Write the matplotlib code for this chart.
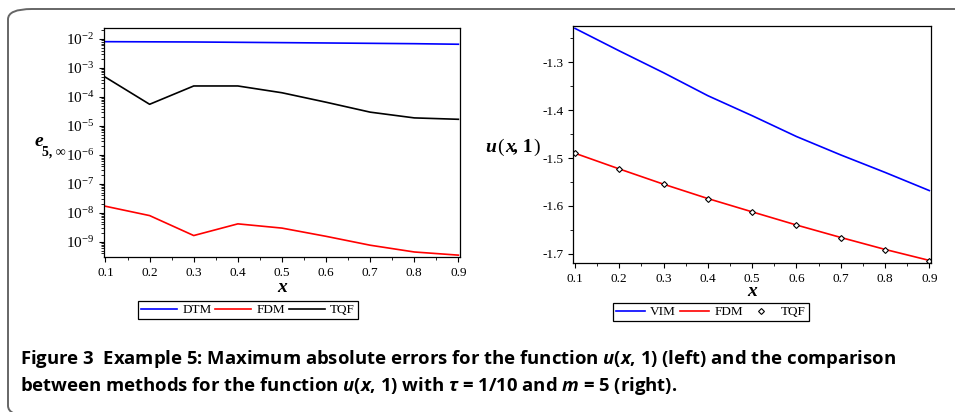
import math
import matplotlib
matplotlib.use("Agg")
import matplotlib.pyplot as plt
import matplotlib.ticker as mticker
from matplotlib.patches import FancyBboxPatch

SERIF = "Liberation Serif"
CAPFONT = "Open Sans"

plt.rcParams["font.family"] = SERIF
plt.rcParams["mathtext.fontset"] = "custom"
plt.rcParams["mathtext.rm"] = CAPFONT + ":bold"
plt.rcParams["mathtext.it"] = CAPFONT + ":bold:italic"
plt.rcParams["mathtext.bf"] = CAPFONT + ":bold"

# left panel: maximum absolute errors
x_vals = [0.1, 0.2, 0.3, 0.4, 0.5, 0.6, 0.7, 0.8, 0.9]
err_dtm = [8.1e-3, 8.0e-3, 7.9e-3, 7.7e-3, 7.5e-3, 7.3e-3, 7.1e-3, 6.9e-3, 6.6e-3]
err_fdm = [1.7e-8, 8.1e-9, 1.66e-9, 4.2e-9, 3.0e-9, 1.56e-9, 7.7e-10, 4.5e-10, 3.5e-10]
err_tqf = [4.8e-4, 5.6e-5, 2.4e-4, 2.4e-4, 1.4e-4, 6.6e-5, 3.0e-5, 1.9e-5, 1.7e-5]

# right panel: u(x, 1)
u_vim = [-1.229, -1.276, -1.3217, -1.3697, -1.4115, -1.455, -1.4935, -1.530, -1.568]
u_fdm = [-1.490, -1.5228, -1.5547, -1.5847, -1.6125, -1.640, -1.666, -1.691, -1.714]
u_tqf = [-1.4895, -1.5228, -1.5547, -1.5847, -1.6125, -1.640, -1.6667, -1.6917, -1.716]

W, H = 955, 412
fig = plt.figure(figsize=(W / 100, H / 100), dpi=100)


def fx(px):
    return px / W


def fy(py):
    return 1 - py / H


# rounded frame around the figure
frame = FancyBboxPatch(
    (fx(8), fy(416)), fx(1000) - fx(8), fy(9) - fy(416),
    boxstyle="round,pad=0,rounding_size=0.025",
    transform=fig.transFigure, facecolor="none", edgecolor="#666666",
    linewidth=1.4, clip_on=False,
)
fig.patches.append(frame)


def style_axes(ax):
    for sp in ax.spines.values():
        sp.set_linewidth(0.9)
    ax.tick_params(which="major", direction="out", length=3.5, width=0.8,
                   labelsize=9.5)
    ax.tick_params(which="minor", direction="out", length=2, width=0.6)
    ax.xaxis.set_major_locator(mticker.FixedLocator(x_vals))
    ax.xaxis.set_minor_locator(mticker.MultipleLocator(0.05))
    ax.xaxis.set_major_formatter(mticker.FormatStrFormatter("%.1f"))


def add_legend(ax, cx, cy, hl):
    leg = ax.legend(loc="center", bbox_to_anchor=(fx(cx), fy(cy)),
                    bbox_transform=fig.transFigure, ncol=3, frameon=True,
                    fancybox=False, edgecolor="black", framealpha=1,
                    prop={"family": SERIF, "size": 9.5}, handlelength=hl,
                    columnspacing=0.3, handletextpad=0.4, borderpad=0.25,
                    borderaxespad=0)
    leg.get_frame().set_linewidth(0.9)


# ---- left
ax1 = fig.add_axes([fx(104), fy(257), fx(460) - fx(104), fy(28) - fy(257)])
ax1.plot(x_vals, err_dtm, color="#0000ff", lw=1.2, label="DTM")
ax1.plot(x_vals, err_fdm, color="#ff0000", lw=1.2, label="FDM")
ax1.plot(x_vals, err_tqf, color="black", lw=1.2, label="TQF")
ax1.set_yscale("log")
ax1.set_xlim(0.0966, 0.9036)
ax1.set_ylim(10 ** -9.52, 10 ** -1.62)
ax1.yaxis.set_major_locator(mticker.LogLocator(base=10, numticks=20))
ax1.yaxis.set_major_formatter(mticker.FuncFormatter(
    lambda v, p: r"$\mathregular{10^{-%d}}$" % round(-math.log10(v))))
ax1.yaxis.set_minor_locator(mticker.LogLocator(base=10, subs=range(2, 10), numticks=20))
ax1.yaxis.set_minor_formatter(mticker.NullFormatter())
style_axes(ax1)
ax1.tick_params(axis="y", labelsize=11)

fig.text(fx(282), fy(288), "x", style="italic", weight="bold",
         fontsize=14, ha="center", va="center")
fig.text(fx(35), fy(141), "e", style="italic", weight="bold",
         fontsize=14, ha="left", va="center")
fig.text(fx(42), fy(152), "5, \u221e", weight="bold",
         fontsize=10, ha="left", va="center")

add_legend(ax1, 248, 310, 2.7)

# ---- right
ax2 = fig.add_axes([fx(573), fy(263), fx(931) - fx(573), fy(26) - fy(263)])
ax2.plot(x_vals, u_vim, color="#0000ff", lw=1.2, label="VIM")
ax2.plot(x_vals, u_fdm, color="#ff0000", lw=1.2, label="FDM")
ax2.plot(x_vals, u_tqf, linestyle="none", marker="D", markersize=3,
         markerfacecolor="white", markeredgecolor="black", markeredgewidth=0.8,
         label="TQF")
ax2.set_xlim(0.0955, 0.9038)
ax2.set_ylim(-1.7194, -1.224)
ax2.yaxis.set_major_locator(mticker.FixedLocator([-1.3, -1.4, -1.5, -1.6, -1.7]))
ax2.yaxis.set_minor_locator(mticker.MultipleLocator(0.05))
ax2.yaxis.set_major_formatter(mticker.FuncFormatter(lambda v, p: "-%.1f" % abs(v)))
style_axes(ax2)

fig.text(fx(752), fy(292), "x", style="italic", weight="bold",
         fontsize=14, ha="center", va="center")
fig.text(fx(491), fy(147), "u", style="italic", weight="bold",
         fontsize=14, ha="center", va="center")
fig.text(fx(497), fy(147), "(", fontsize=14, ha="left", va="center")
fig.text(fx(505), fy(147), "x", style="italic", weight="bold",
         fontsize=14, ha="left", va="center")
fig.text(fx(513), fy(147), ", 1", weight="bold",
         fontsize=14, ha="left", va="center")
fig.text(fx(533), fy(147), ")", fontsize=14, ha="left", va="center")

add_legend(ax2, 711, 312, 2.2)

# ---- caption
cap1 = ("Figure 3  Example 5: Maximum absolute errors for the function "
        r"$u$($x$, 1) (left) and the comparison")
cap2 = (r"between methods for the function $u$($x$, 1) with $\tau$ = 1/10 and "
        r"$m$ = 5 (right).")
fig.text(fx(20), fy(359), cap1, family=CAPFONT, weight="bold", fontsize=13.3,
         ha="left", va="center")
fig.text(fx(20), fy(386), cap2, family=CAPFONT, weight="bold", fontsize=13.3,
         ha="left", va="center")

fig.savefig("out.png", dpi=100)
